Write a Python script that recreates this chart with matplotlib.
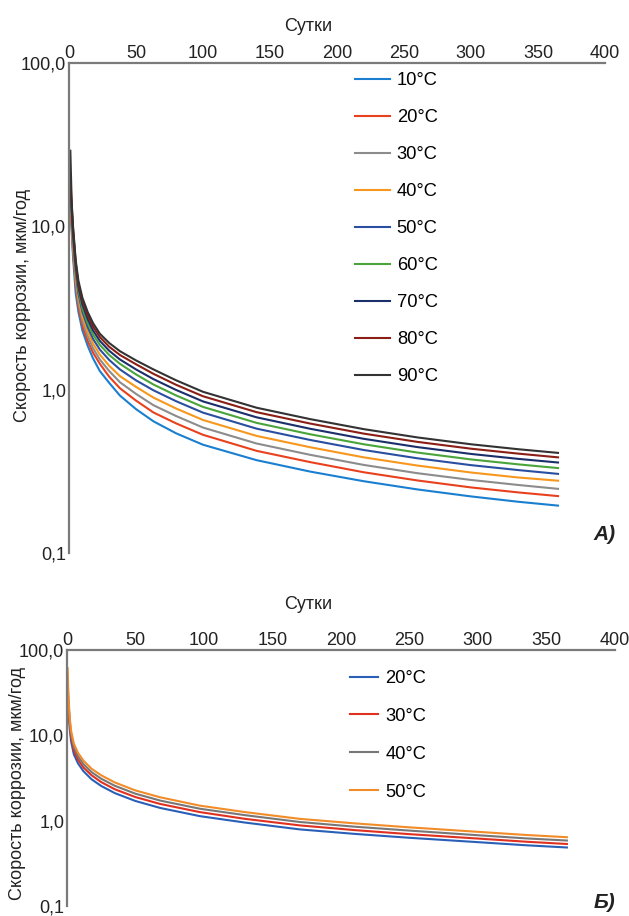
import matplotlib
matplotlib.use("Agg")
from matplotlib import pyplot as plt

plt.rcParams["font.family"] = ["Liberation Sans", "DejaVu Sans"]

# панель А) — 9 температур
days_a = [1, 2, 3, 5, 7, 10, 14, 18, 23, 30, 38, 50, 63, 80, 100, 140, 180, 220, 260, 300, 335, 365]
t10 = [13, 9.5, 6.5, 3.9, 3.0, 2.3, 1.85, 1.55, 1.3, 1.1, 0.92, 0.76, 0.64, 0.54, 0.46, 0.37, 0.315, 0.275, 0.245, 0.222, 0.206, 0.195]
t20 = [14, 9.8, 7.0, 4.34, 3.22, 2.46, 1.98, 1.68, 1.44, 1.20, 1.02, 0.857, 0.725, 0.621, 0.529, 0.422, 0.36, 0.312, 0.278, 0.252, 0.235, 0.223]
t30 = [14.5, 10.5, 7.48, 4.64, 3.44, 2.63, 2.12, 1.79, 1.53, 1.30, 1.11, 0.942, 0.803, 0.689, 0.586, 0.468, 0.399, 0.346, 0.308, 0.28, 0.261, 0.247]
t40 = [15, 11.1, 7.95, 4.93, 3.66, 2.81, 2.26, 1.91, 1.64, 1.40, 1.21, 1.04, 0.894, 0.766, 0.652, 0.521, 0.444, 0.385, 0.343, 0.311, 0.29, 0.277]
t50 = [16, 11.8, 8.43, 5.23, 3.88, 3.0, 2.41, 2.04, 1.76, 1.52, 1.33, 1.14, 0.991, 0.849, 0.723, 0.577, 0.492, 0.427, 0.38, 0.345, 0.322, 0.305]
t60 = [17, 12.4, 8.84, 5.48, 4.07, 3.15, 2.55, 2.17, 1.88, 1.63, 1.44, 1.24, 1.075, 0.921, 0.784, 0.626, 0.533, 0.463, 0.412, 0.374, 0.349, 0.331]
t70 = [18, 12.95, 9.25, 5.74, 4.26, 3.32, 2.7, 2.3, 1.99, 1.73, 1.53, 1.33, 1.16, 0.995, 0.847, 0.677, 0.576, 0.50, 0.445, 0.404, 0.377, 0.358]
t80 = [20, 13.5, 9.65, 5.98, 4.44, 3.5, 2.85, 2.43, 2.1, 1.83, 1.63, 1.43, 1.25, 1.07, 0.911, 0.728, 0.62, 0.538, 0.479, 0.435, 0.406, 0.385]
t90 = [29, 14, 10, 6.2, 4.65, 3.65, 2.98, 2.55, 2.2, 1.93, 1.72, 1.51, 1.33, 1.14, 0.97, 0.775, 0.66, 0.573, 0.51, 0.463, 0.432, 0.41]

labels_a = ["10°C", "20°C", "30°C", "40°C", "50°C", "60°C", "70°C", "80°C", "90°C"]
colors_a = ["#1a7fd1", "#e8411e", "#8c8c8c", "#f7971d", "#2a4fa0",
            "#4aa43a", "#1b2f6b", "#8b1f16", "#333333"]

# панель Б) — 4 температуры
days_b = [0.5, 1, 2, 3, 5, 8, 12, 18, 25, 35, 50, 68, 97, 130, 170, 210, 250, 300, 335, 365]
b20 = [30, 20, 12, 8.5, 6.0, 4.7, 3.8, 3.05, 2.55, 2.1, 1.7, 1.41, 1.13, 0.95, 0.79, 0.70, 0.63, 0.56, 0.515, 0.485]
b30 = [38, 23, 13.5, 9.5, 6.7, 5.2, 4.2, 3.4, 2.83, 2.33, 1.89, 1.57, 1.26, 1.05, 0.88, 0.775, 0.695, 0.617, 0.567, 0.533]
b40 = [48, 26, 14.8, 10.4, 7.3, 5.7, 4.6, 3.7, 3.1, 2.56, 2.07, 1.72, 1.38, 1.16, 0.965, 0.85, 0.765, 0.675, 0.62, 0.585]
b50 = [61, 30, 16, 11.3, 8.0, 6.25, 5.05, 4.05, 3.4, 2.8, 2.26, 1.88, 1.5, 1.26, 1.05, 0.93, 0.835, 0.74, 0.68, 0.64]

labels_b = ["20°C", "30°C", "40°C", "50°C"]
colors_b = ["#2a5fb8", "#e03020", "#777777", "#f28c28"]

yticks = [0.1, 1, 10, 100]
ytick_labels = ["0,1", "1,0", "10,0", "100,0"]
xticks = list(range(0, 401, 50))
FS = 13


def style(ax):
    ax.set_yscale("log")
    ax.set_xlim(0, 400)
    ax.set_ylim(0.1, 100)
    ax.xaxis.tick_top()
    ax.set_xticks(xticks)
    ax.set_xticklabels([str(x) for x in xticks])
    ax.set_yticks(yticks)
    ax.set_yticklabels(ytick_labels)
    ax.minorticks_off()
    ax.tick_params(length=0, labelsize=FS, colors="#222222")
    ax.tick_params(axis="x", pad=1)
    ax.tick_params(axis="y", pad=2)
    for s in ["right", "bottom"]:
        ax.spines[s].set_visible(False)
    for s in ["left", "top"]:
        ax.spines[s].set_color("#7a7a7a")
        ax.spines[s].set_linewidth(1.6)
    ax.set_xlabel("Сутки", fontsize=FS, color="#222222")
    ax.xaxis.set_label_position("top")
    ax.set_ylabel("Скорость коррозии, мкм/год", fontsize=FS, color="#222222")


fig = plt.figure(figsize=(6.29, 9.16), dpi=100)

ax1 = fig.add_axes([0.1097, 0.3963, 0.852, 0.535])
series_a = [t10, t20, t30, t40, t50, t60, t70, t80, t90]
for vals, lab, col in zip(series_a, labels_a, colors_a):
    ax1.plot(days_a, vals, color=col, lw=1.5, label=lab)
style(ax1)
ax1.xaxis.set_label_coords(0.446, 1.065)
ax1.yaxis.set_label_coords(-0.071, 0.506)
ax1.legend(loc="upper left", bbox_to_anchor=(0.534, 0.981), frameon=False,
           fontsize=13.2, handlelength=1.88, handletextpad=0.39,
           labelspacing=1.09, borderpad=0, borderaxespad=0)

ax2 = fig.add_axes([0.1065, 10 / 916, 0.871, 256 / 916])
series_b = [b20, b30, b40, b50]
for vals, lab, col in zip(series_b, labels_b, colors_b):
    ax2.plot(days_b, vals, color=col, lw=1.5, label=lab)
style(ax2)
ax2.xaxis.set_label_coords(0.44, 1.16)
ax2.yaxis.set_label_coords(-0.075, 0.48)
ax2.legend(loc="upper left", bbox_to_anchor=(0.516, 0.922), frameon=False,
           fontsize=13.2, handlelength=1.55, handletextpad=0.39,
           labelspacing=1.14, borderpad=0, borderaxespad=0)

fig.text(0.943, 1 - 535 / 916, "А)", fontsize=15, fontweight="bold",
         fontstyle="italic", ha="left", va="center", color="#222222")
fig.text(0.943, 1 - 903 / 916, "Б)", fontsize=15, fontweight="bold",
         fontstyle="italic", ha="left", va="center", color="#222222")

fig.savefig("out.png", dpi=100)
